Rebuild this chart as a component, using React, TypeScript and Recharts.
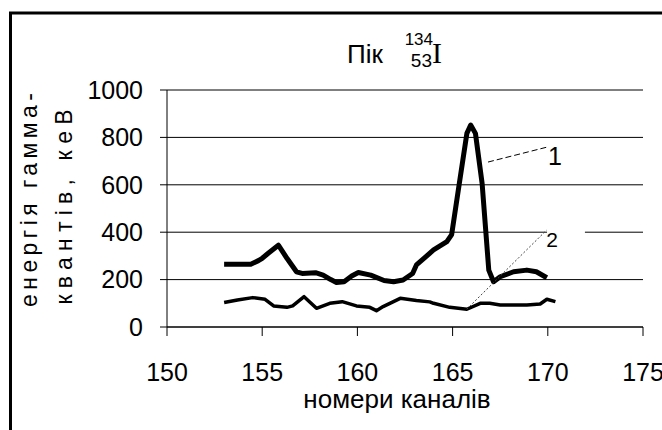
import React from 'react';
import {
  LineChart,
  Line,
  XAxis,
  YAxis,
  CartesianGrid,
  ReferenceLine,
  ReferenceArea,
  ReferenceDot,
} from 'recharts';

// channel numbers and gamma energies
const channels1 = [153, 154.4, 154.8, 155.0, 155.3, 155.85, 156.3, 156.8, 157.1, 157.8, 158.2, 158.6, 158.9, 159.3, 159.7, 160.05, 160.7, 161.4, 161.9, 162.4, 162.9, 163.1, 163.6, 164.0, 164.7, 164.95, 165.3, 165.75, 165.95, 166.2, 166.55, 166.9, 167.15, 167.5, 168.2, 168.9, 169.4, 169.95];
const energy1 = [265, 265, 280, 290, 310, 345, 290, 233, 226, 229, 219, 200, 188, 191, 215, 230, 219, 196, 191, 198, 226, 262, 297, 325, 360, 390, 578, 817, 852, 817, 606, 240, 191, 212, 233, 240, 233, 208];

const channels2 = [153, 153.7, 154.5, 155.15, 155.6, 156.3, 156.6, 157.2, 157.85, 158.55, 159.2, 159.95, 160.65, 161.0, 161.35, 162.25, 163.1, 163.8, 164.0, 164.85, 165.75, 166.45, 166.95, 167.5, 168.9, 169.6, 169.95, 170.4];
const energy2 = [103, 114, 124, 117, 89, 83, 89, 128, 79, 100, 107, 89, 83, 69, 86, 121, 112, 106, 100, 83, 75, 100, 100, 93, 93, 97, 117, 107];

const xTicks = [150, 155, 160, 165, 170, 175];
const yTicks = [0, 200, 400, 600, 800, 1000];

// callouts "1" and "2" (data coordinates)
const callout1 = { x: 170.38, y: 683, text: '1', from: { x: 166.86, y: 696 }, to: { x: 169.96, y: 759 } };
const callout2 = { x: 170.22, y: 338, text: '2', from: { x: 165.74, y: 75 }, to: { x: 169.94, y: 409 } };

const line1 = channels1.map((c, i) => ({ x: c, y: energy1[i] }));
const line2 = channels2.map((c, i) => ({ x: c, y: energy2[i] }));

const sans = '"Liberation Sans", Arial, sans-serif';

const CalloutText = (size: number, text: string) => (props: any) => (
  <text x={props.cx} y={props.cy} textAnchor="middle" fontFamily={sans} fontSize={size} fill="#000">
    {text}
  </text>
);

export default function App() {
  return (
    <div style={{ position: 'absolute', left: 0, top: 0, width: 662, height: 430, background: '#fff' }}>
      <LineChart width={662} height={430} margin={{ top: 90, right: 19, left: 0, bottom: 0 }}>
        <CartesianGrid vertical={false} stroke="#000" strokeWidth={1} />
        <ReferenceArea x1={169.96} x2={171.95} y1={365} y2={435} fill="#fff" fillOpacity={1} stroke="none" />
        <XAxis
          type="number"
          dataKey="x"
          domain={[150, 175]}
          ticks={xTicks}
          allowDataOverflow
          height={103}
          tickSize={9}
          tickMargin={27}
          stroke="#000"
          tickLine={{ stroke: '#000' }}
          tick={{ fill: '#000', fontSize: 25, fontFamily: sans }}
        />
        <YAxis
          type="number"
          domain={[0, 1000]}
          ticks={yTicks}
          width={167}
          tickSize={7}
          tickMargin={17}
          stroke="#000"
          tickLine={{ stroke: '#000' }}
          tick={{ fill: '#000', fontSize: 25, fontFamily: sans }}
        />
        <Line data={line1} dataKey="y" type="linear" stroke="#000" strokeWidth={5} dot={false} strokeLinejoin="round" isAnimationActive={false} />
        <Line data={line2} dataKey="y" type="linear" stroke="#000" strokeWidth={3.5} dot={false} strokeLinejoin="round" isAnimationActive={false} />
        <ReferenceLine segment={[callout1.from, callout1.to]} stroke="#000" strokeWidth={1} strokeDasharray="6 3" />
        <ReferenceLine segment={[callout2.from, callout2.to]} stroke="#444" strokeWidth={1} strokeDasharray="2 2" />
        <ReferenceDot x={callout1.x} y={callout1.y} r={1} shape={CalloutText(25, callout1.text)} />
        <ReferenceDot x={callout2.x} y={callout2.y} r={1} shape={CalloutText(21, callout2.text)} />
      </LineChart>
      <svg width={662} height={430} style={{ position: 'absolute', left: 0, top: 0, pointerEvents: 'none' }}>
        <path d="M9 13 H662 M10.5 12 V430" stroke="#000" strokeWidth={3} fill="none" />
        <text x={347} y={63} fontFamily={sans} fontSize={26} fill="#000">Пік</text>
        <text x={433} y={45} textAnchor="end" fontFamily={sans} fontSize={17} fill="#000">134</text>
        <text x={432} y={67} textAnchor="end" fontFamily={sans} fontSize={19} fill="#000">53</text>
        <text x={432} y={63} fontFamily='"Liberation Serif", "Times New Roman", serif' fontSize={30} fill="#000">I</text>
        <text
          transform="translate(37 200) rotate(-90)"
          textAnchor="middle"
          fontFamily={sans}
          fontSize={23}
          fill="#000"
          textLength={214}
          lengthAdjust="spacing"
        >
          енергія гамма-
        </text>
        <text
          transform="translate(72 207) rotate(-90)"
          textAnchor="middle"
          fontFamily={sans}
          fontSize={23}
          fill="#000"
          textLength={195}
          lengthAdjust="spacing"
        >
          квантів, кеВ
        </text>
        <text x={397} y={408} textAnchor="middle" fontFamily={sans} fontSize={26} fill="#000">
          номери каналів
        </text>
      </svg>
    </div>
  );
}
